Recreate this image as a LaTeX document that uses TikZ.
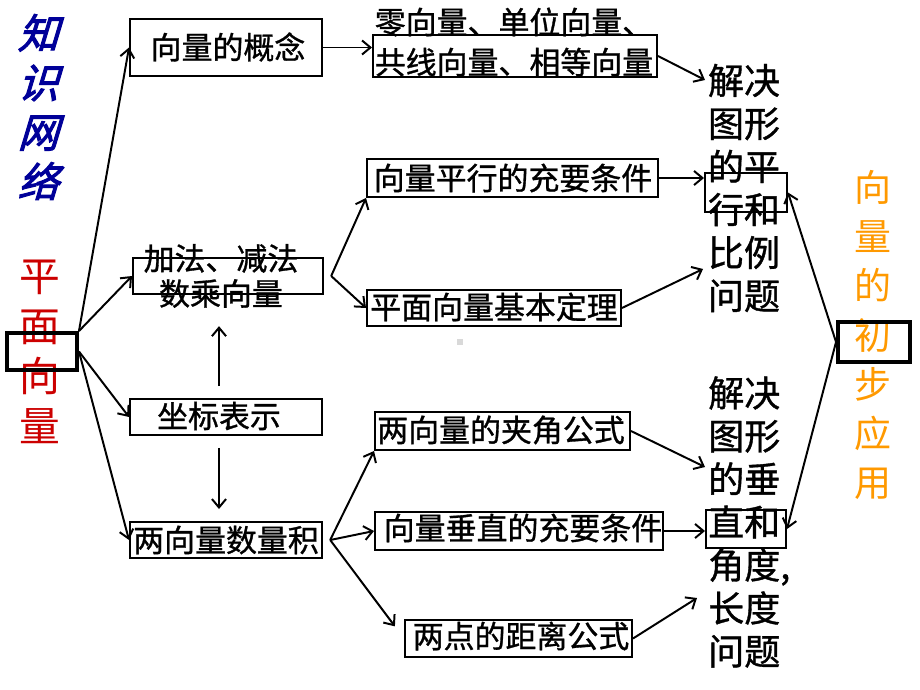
\documentclass[tikz,border=0pt]{standalone}
\usepackage{fontspec}
\setmainfont{Noto Sans CJK SC}
\newfontfamily\slantcjk[FakeSlant=0.3,FakeBold=2.5]{Noto Sans CJK SC}
\newfontfamily\boxcjk[FakeBold=1]{Noto Sans CJK SC}
\usetikzlibrary{fit,arrows.meta}
\definecolor{netblue}{RGB}{0,0,153}
\definecolor{vecred}{RGB}{204,0,0}
\definecolor{apporange}{RGB}{255,153,0}

\begin{document}
\begin{tikzpicture}[x=0.025cm,y=-0.025cm,
	box/.style={draw=black,line width=1.4pt,inner sep=0pt,fit={#1}},
	thickbox/.style={draw=black,line width=2.8pt,inner sep=0pt,fit={#1}},
	txt/.style={inner sep=0pt,align=center,font=\boxcjk\fontsize{22}{25}\selectfont},
	side/.style={inner sep=0pt,align=left,font=\boxcjk\fontsize{25.6}{30.6}\selectfont},
	every edge/.style={draw,line width=1.4pt},
	>={Straight Barb[length=6pt,width=10pt]}]
	\useasboundingbox (0,0) rectangle (920,690);
	
	\node[inner sep=0pt,align=center,text=netblue,font=\slantcjk\fontsize{29}{35.2}\selectfont] (knowT) at (38,107) {知\\识\\网\\络};
	\node[inner sep=0pt,align=center,text=vecred,font=\fontsize{29}{35.4}\selectfont] (vecT) at (40,352) {平\\面\\向\\量};
	\node[inner sep=0pt,align=center,text=apporange,font=\fontsize{26.3}{34.9}\selectfont] (appT) at (873,335) {向\\量\\的\\初\\步\\应\\用};
	
	\node[thickbox={(7,333) (77,370)}] (leftBox) {};
	\node[thickbox={(838,322) (910,362)}] (appBox) {};
	
	\node[box={(130,19) (322,76)}] (concept) {};
	\node[box={(373,35) (657,77)}] (zero) {};
	\node[box={(367,159) (658,197)}] (condPar) {};
	\node[box={(133,258) (323,294)}] (addBox) {};
	\node[box={(367,290) (621,326)}] (theorem) {};
	\node[box={(130,399) (322,435)}] (coordBox) {};
	\node[box={(375,412) (630,450)}] (angle) {};
	\node[box={(130,522) (322,558)}] (dotBox) {};
	\node[box={(375,512) (663,550)}] (perp) {};
	\node[box={(405,620) (632,657)}] (dist) {};
	\node[box={(705,173) (787,212)}] (parBox) {};
	\node[box={(706,510) (786,548)}] (perpBox) {};
	
	\node[txt] (conceptT) at (228,47) {向量的概念};
	\node[txt,font=\boxcjk\fontsize{22}{28.5}\selectfont] (zeroT) at (514,42) {零向量、单位向量、\\共线向量、相等向量};
	\node[txt] (condParT) at (513,178) {向量平行的充要条件};
	\node[txt] (addT) at (221,276) {加法、减法\\数乘向量};
	\node[txt] (theoremT) at (494,307) {平面向量基本定理};
	\node[txt] (coordT) at (219,416) {坐标表示};
	\node[txt] (angleT) at (501,430) {两向量的夹角公式};
	\node[txt] (dotT) at (226,540) {两向量数量积};
	\node[txt] (perpT) at (523,528) {向量垂直的充要条件};
	\node[txt] (distT) at (521,636) {两点的距离公式};
	
	\node[side] (parT) at (744,188) {解决\\图形\\的平\\行和\\比例\\问题};
	\node[side,anchor=west] (perpSideT) at (708,522) {解决\\图形\\的垂\\直和\\角度,\\长度\\问题};
	
	\coordinate (parIn1) at (705,80);
	\coordinate (parIn3) at (703,269);
	\coordinate (perpIn1) at (705,467);
	\coordinate (perpIn3) at (697,598);
	
	\fill[gray!30] (457,339) rectangle (463,345);
	
	\path[->](leftBox.north east) edge (concept.west);
	\path[->](leftBox.north east) edge (addBox.west);
	\path[->](leftBox.east) edge (coordBox.west);
	\path[->](leftBox.east) edge (dotBox.west);
	
	\path[->](concept.east) edge (concept.east -| zero.west);
	\path[->](zero.east) edge (parIn1);
	
	\path[->]([xshift=0.18cm]addBox.east) edge (condPar.south west);
	\path[->]([xshift=0.18cm]addBox.east) edge (theorem.west);
	\path[->](condPar.east) edge (condPar.east -| parBox.west);
	\path[->](theorem.east) edge (parIn3);
	
	\path[->,shorten <=0.3cm,shorten >=0.78cm](coordBox.north -| coordT) edge (addBox.south -| coordT);
	\path[->,shorten <=0.3cm,shorten >=0.3cm](coordBox.south -| coordT) edge (dotBox.north -| coordT);
	
	\path[->]([xshift=0.18cm]dotBox.east) edge (angle.south west);
	\path[->]([xshift=0.18cm]dotBox.east) edge (perp.west);
	\path[->,shorten >=0.38cm]([xshift=0.18cm]dotBox.east) edge (dist.west);
	\path[->](angle.east) edge (perpIn1);
	\path[->](perp.east) edge (perp.east -| perpBox.west);
	\path[->](dist.east) edge (perpIn3);
	
	\path[->](appBox.west) edge (parBox.east);
	\path[->](appBox.west) edge (perpBox.east);
\end{tikzpicture}
\end{document}
